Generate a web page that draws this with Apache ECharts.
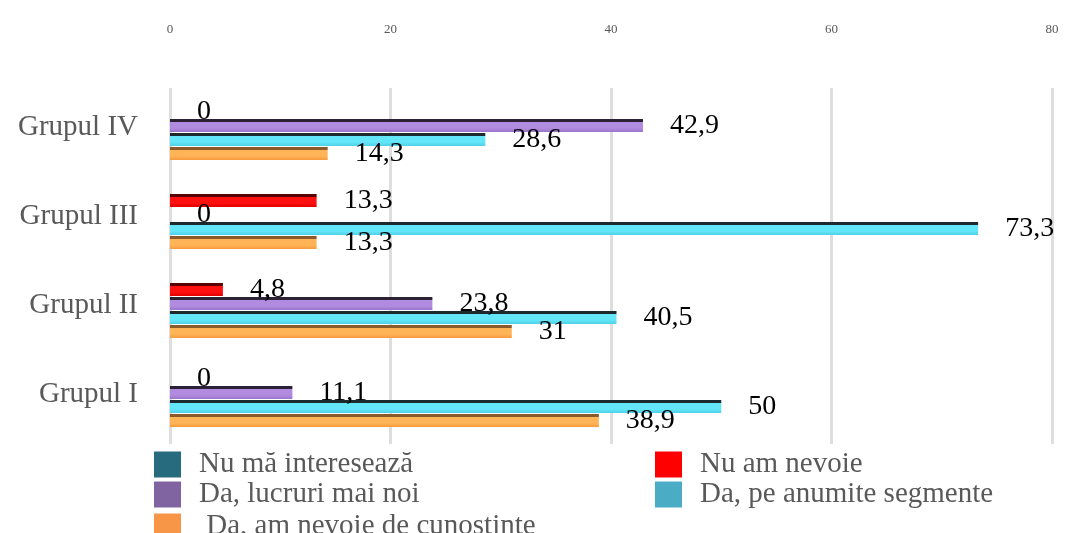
<!DOCTYPE html>
<html>
<head>
<meta charset="utf-8">
<script src="https://cdn.jsdelivr.net/npm/echarts@6/dist/echarts.min.js"></script>
<style>
  html, body { margin: 0; padding: 0; background: #fff; }
  #chart { width: 1076px; height: 533px; }
</style>
</head>
<body>
<div id="chart"></div>
<script>
// Groups, bottom to top on the category axis
const categories = ['Grupul I', 'Grupul II', 'Grupul III', 'Grupul IV'];

// Percent of answers per group
const nuMaIntereseaza = [null, null, null, null];
const nuAmNevoie = [0, 4.8, 13.3, 0];
const lucruriMaiNoi = [11.1, 23.8, 0, 42.9];
const anumiteSegmente = [50, 40.5, 73.3, 28.6];
const nevoieCunostinte = [38.9, 31, 13.3, 14.3];

const xTicks = [0, 20, 40, 60, 80];

const seriesNames = [
  'Nu mă interesează',
  'Nu am nevoie',
  'Da, lucruri mai noi',
  'Da, pe anumite segmente',
  'Da, am nevoie de cunoștințe'
];
const legendColors = ['#276b7e', '#ff0000', '#8064a2', '#4bacc6', '#f79646'];

// bar body: dark top face, lit front face
function barFill(top, body, shade) {
  return new echarts.graphic.LinearGradient(0, 0, 0, 1, [
    { offset: 0, color: top },
    { offset: 0.2, color: top },
    { offset: 0.26, color: body },
    { offset: 0.7, color: body },
    { offset: 1, color: shade }
  ]);
}

const fills = [
  barFill('#1d3c46', '#2f7f95', '#276b7e'),
  barFill('#5a0000', '#ff1010', '#e00000'),
  barFill('#2b2233', '#b08be0', '#9a74c8'),
  barFill('#1c2a2e', '#62e6f8', '#4fd0e6'),
  barFill('#8a5a2a', '#ffb457', '#f59a3c')
];

const serif = '"Liberation Serif", "Times New Roman", serif';

const labelOpt = {
  show: true,
  position: 'right',
  distance: 27,
  color: '#000',
  fontFamily: serif,
  fontSize: 28,
  formatter: p => (p.value === null || p.value === undefined) ? '' : String(p.value).replace('.', ',')
};

const dataSets = [nuMaIntereseaza, nuAmNevoie, lucruriMaiNoi, anumiteSegmente, nevoieCunostinte];

const series = dataSets.map((d, i) => ({
  name: seriesNames[i],
  type: 'bar',
  data: d,
  stack: i <= 1 ? 'a' : 's' + i,
  barWidth: 13,
  barGap: '8%',
  itemStyle: { color: fills[i] },
  label: labelOpt,
  emphasis: { disabled: true }
}));

// legend: two columns, one component per entry
const legendPlaces = [
  { i: 0, left: 149, top: 445 },
  { i: 1, left: 650, top: 445 },
  { i: 2, left: 149, top: 475 },
  { i: 3, left: 650, top: 475 },
  { i: 4, left: 149, top: 507 }
];
const legends = legendPlaces.map(p => ({
  orient: 'horizontal',
  left: p.left,
  top: p.top,
  itemWidth: 27,
  itemHeight: 26,
  selectedMode: false,
  textStyle: { color: '#595959', fontFamily: serif, fontSize: 29, padding: [0, 0, 0, 13] },
  formatter: n => n === 'Da, am nevoie de cunoștințe' ? '\u00a0' + n : n,
  data: [{ name: seriesNames[p.i], icon: 'rect', itemStyle: { color: legendColors[p.i] } }]
}));

const chart = echarts.init(document.getElementById('chart'), null, { renderer: 'canvas' });

chart.setOption({
  animation: false,
  backgroundColor: '#fff',
  grid: { left: 170, right: 24, top: 88, height: 356, containLabel: false },
  xAxis: {
    type: 'value',
    position: 'top',
    min: xTicks[0],
    max: xTicks[xTicks.length - 1],
    interval: xTicks[1] - xTicks[0],
    axisLine: { show: false },
    axisTick: { show: false },
    axisLabel: { color: '#595959', fontFamily: serif, fontSize: 13, margin: 52 },
    splitLine: { show: true, lineStyle: { color: '#dedede', width: 3 } }
  },
  yAxis: {
    type: 'category',
    data: categories,
    axisLine: { show: false },
    axisTick: { show: false },
    axisLabel: {
      color: '#595959',
      fontFamily: serif,
      fontSize: 29,
      margin: 32,
      verticalAlign: 'bottom',
      lineHeight: 10
    }
  },
  legend: legends,
  series: series
});
</script>
</body>
</html>
